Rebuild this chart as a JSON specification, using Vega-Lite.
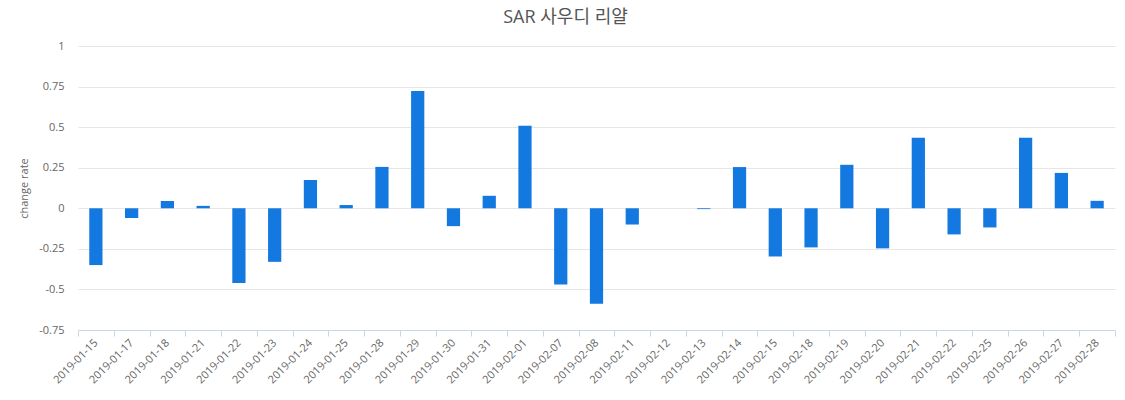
{
  "$schema": "https://vega.github.io/schema/vega-lite/v6.json",
  "autosize": "none",
  "width": 1037,
  "height": 284,
  "padding": {"left": 78, "top": 46, "right": 10, "bottom": 70},
  "background": "white",
  "config": {
    "view": {"stroke": null},
    "font": "Open Sans",
    "axis": {"labelFont": "Open Sans", "titleFont": "Open Sans"}
  },
  "title": {
    "text": "SAR 사우디 리얄",
    "font": "Open Sans, Noto Sans CJK KR",
    "fontSize": 18,
    "fontWeight": "normal",
    "color": "#555555",
    "anchor": "middle",
    "dx": -31,
    "offset": 13
  },
  "data": {
    "values": [
      {"date": "2019-01-15", "rate": -0.35},
      {"date": "2019-01-17", "rate": -0.06},
      {"date": "2019-01-18", "rate": 0.045},
      {"date": "2019-01-21", "rate": 0.015},
      {"date": "2019-01-22", "rate": -0.46},
      {"date": "2019-01-23", "rate": -0.33},
      {"date": "2019-01-24", "rate": 0.175},
      {"date": "2019-01-25", "rate": 0.02},
      {"date": "2019-01-28", "rate": 0.255},
      {"date": "2019-01-29", "rate": 0.723},
      {"date": "2019-01-30", "rate": -0.11},
      {"date": "2019-01-31", "rate": 0.077},
      {"date": "2019-02-01", "rate": 0.508},
      {"date": "2019-02-07", "rate": -0.469},
      {"date": "2019-02-08", "rate": -0.588},
      {"date": "2019-02-11", "rate": -0.1},
      {"date": "2019-02-12", "rate": 0},
      {"date": "2019-02-13", "rate": -0.005},
      {"date": "2019-02-14", "rate": 0.254},
      {"date": "2019-02-15", "rate": -0.297},
      {"date": "2019-02-18", "rate": -0.241},
      {"date": "2019-02-19", "rate": 0.268},
      {"date": "2019-02-20", "rate": -0.247},
      {"date": "2019-02-21", "rate": 0.434},
      {"date": "2019-02-22", "rate": -0.161},
      {"date": "2019-02-25", "rate": -0.118},
      {"date": "2019-02-26", "rate": 0.434},
      {"date": "2019-02-27", "rate": 0.218},
      {"date": "2019-02-28", "rate": 0.046}
    ]
  },
  "mark": {"type": "bar", "color": "#1379e0", "width": {"band": 0.37}},
  "encoding": {
    "x": {
      "field": "date",
      "type": "ordinal",
      "sort": null,
      "scale": {"paddingInner": 0, "paddingOuter": 0},
      "axis": {
        "title": null,
        "labelAngle": -45,
        "labelAlign": "right",
        "labelBaseline": "middle",
        "labelFontSize": 11,
        "labelColor": "#666666",
        "labelPadding": 5,
        "tickBand": "extent",
        "tickSize": 6,
        "tickColor": "#ccd6eb",
        "domainColor": "#ccd6eb",
        "grid": false
      }
    },
    "y": {
      "field": "rate",
      "type": "quantitative",
      "scale": {"domain": [-0.75, 1], "nice": false},
      "axis": {
        "title": "change rate",
        "titleFontSize": 11,
        "titleFontWeight": "normal",
        "titleColor": "#666666",
        "titlePadding": 9,
        "values": [-0.75, -0.5, -0.25, 0, 0.25, 0.5, 0.75, 1],
        "labelExpr": "replace(toString(datum.value), '−', '-')",
        "labelFontSize": 11,
        "labelColor": "#666666",
        "labelPadding": 14,
        "domain": false,
        "ticks": false,
        "gridColor": "#e6e6e6"
      }
    }
  }
}
